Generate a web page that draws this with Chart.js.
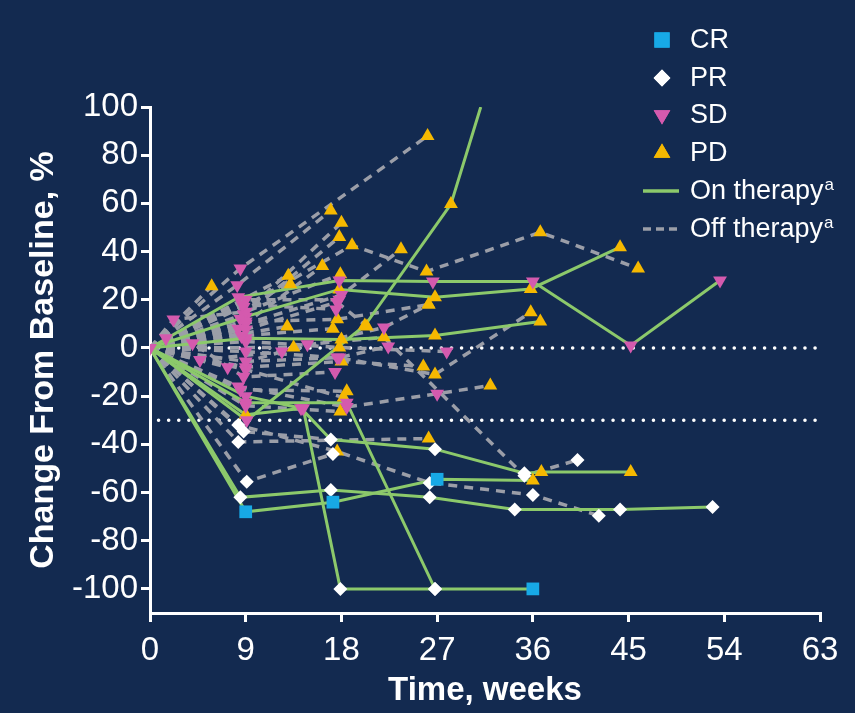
<!DOCTYPE html>
<html>
<head>
<meta charset="utf-8">
<script src="https://cdn.jsdelivr.net/npm/chart.js@4.4.1/dist/chart.umd.min.js"></script>
<style>
  html, body { margin: 0; padding: 0; background: #132a50; }
  canvas { display: block; }
</style>
</head>
<body>
<canvas id="chart" width="855" height="713"></canvas>
<script>
// axis ticks
const weekTicks = [0, 9, 18, 27, 36, 45, 54, 63];
const changeTicks = [-100, -80, -60, -40, -20, 0, 20, 40, 60, 80, 100];
const referenceLevels = [0, -30];

// one trace per patient: [week, % change, response at that visit]
const onTherapy = [
  [[0, 0, ''], [9.1, -30, 'SD'], [20.2, 9.3, 'PD'], [28.3, 59.7, 'PD'], [31.1, 100, '']],
  [[0, 0, 'SD'], [8.3, 21, 'SD'], [17.8, 28, 'SD'], [26.6, 27.6, 'SD'], [36, 27.6, 'SD'], [45.2, 1, 'SD'], [53.6, 28, 'SD']],
  [[0, 0, ''], [9, 13, 'SD'], [17.8, 24.3, 'PD'], [26.8, 21, 'PD'], [35.8, 24.5, 'PD'], [44.2, 41.8, 'PD']],
  [[0, 0, ''], [9, 4, 'SD'], [18, 3.5, 'PD'], [26.8, 5.2, 'PD'], [36.7, 11, 'PD']],
  [[0, 0, ''], [8.5, -62, 'PR'], [17, -59, 'PR'], [26.3, -62, 'PR'], [34.3, -67, 'PR'], [44.2, -67, 'PR'], [52.9, -66, 'PR']],
  [[0, 0, ''], [9, -68, 'CR'], [17.2, -64, 'CR'], [27, -54.5, 'CR'], [36, -55, 'PD']],
  [[0, 0, ''], [9, -20, 'SD'], [14.2, -25, 'SD'], [17, -38, 'PR'], [26.8, -42, 'PR'], [35.2, -52, 'PR'], [36.8, -51.5, 'PD'], [45.2, -51.5, 'PD']],
  [[0, 0, ''], [9, -27.7, 'PD'], [14.4, -25, 'SD'], [17.9, -100, 'PR'], [26.8, -100, 'PR'], [36, -100, 'CR']],
  [[0, 0, ''], [9, -22.7, 'SD'], [18.5, -22.7, 'SD'], [26.8, -100, 'PR']]
];

const offTherapy = [
  [[0, 0, ''], [8.5, 33, 'SD'], [26.1, 88, 'PD']],
  [[0, 0, ''], [8.2, 26, 'SD'], [17, 57, 'PD']],
  [[0, 0, ''], [8.8, 17, 'SD'], [19, 42.6, 'PD'], [26, 31.7, 'PD'], [36.7, 48, 'PD'], [45.9, 33, 'PD']],
  [[0, 0, ''], [9, 10, 'SD'], [18, 22, 'SD'], [23.6, 41, 'PD']],
  [[0, 0, ''], [8.8, 14, 'SD'], [18, 52, 'PD']],
  [[0, 0, ''], [8.5, 12, 'SD'], [17.8, 46, 'PD']],
  [[0, 0, ''], [8.3, 8, 'SD'], [16.2, 34, 'PD']],
  [[0, 0, ''], [13, 30, 'PD']],
  [[0, 0, ''], [13.2, 26.4, 'PD']],
  [[0, 0, ''], [5.8, 25.6, 'PD']],
  [[0, 0, ''], [2.2, 11.8, 'SD'], [9, 15, 'SD'], [17.9, 30.6, 'PD']],
  [[0, 0, ''], [9, 2.7, 'SD'], [17.8, 0.2, 'PD'], [27.9, -1.5, 'SD']],
  [[0, 0, ''], [9, -8, 'SD'], [18, -5.6, 'PD'], [25.7, -7.7, 'PD']],
  [[0, 0, ''], [9, -1.5, 'SD'], [17.6, -4, 'SD'], [26.8, -11, 'PD'], [35.8, 14.8, 'PD']],
  [[0, 0, ''], [8.3, -16, 'SD'], [18.5, -24.5, 'SD'], [27, -19, 'SD'], [32, -15.6, 'PD']],
  [[0, 0, ''], [4.7, -5, 'SD'], [12.4, -1.5, 'SD'], [22, 8.5, 'SD'], [26.2, 18, 'PD']],
  [[0, 0, ''], [7.3, -8, 'SD'], [14.8, 1.5, 'SD'], [22, 4.4, 'PD'], [35.2, -53, 'PR'], [40.2, -46.5, 'PR']],
  [[0, 0, ''], [9, 11, 'SD'], [17.6, 11.9, 'PD'], [26.2, 18, 'PD']],
  [[0, 0, ''], [12.9, 8.9, 'PD']],
  [[0, 0, ''], [13.5, 0.2, 'PD']],
  [[0, 0, ''], [8.5, -17.3, 'SD'], [18.5, -18, 'PD']],
  [[0, 0, ''], [9, -9, 'SD'], [18.2, -20.6, 'PD']],
  [[0, 0, ''], [9, -24, 'SD'], [17.9, -26.4, 'PD']],
  [[0, 0, ''], [8.3, -39, 'PR'], [26.2, -37.6, 'PD']],
  [[0, 0, ''], [8.3, -32, 'PR'], [17.6, -43, 'PD'], [26.3, -56, 'PR'], [36, -61, 'PR'], [42.2, -69.6, 'PR']],
  [[0, 0, ''], [9.1, -55.5, 'PR'], [17.2, -44, 'PR']],
  [[0, 0, ''], [8.8, -34.7, 'PR'], [17, -38, '']],
  [[0, 0, ''], [1.5, 4, 'SD'], [9, 20, 'SD'], [17.8, 20, 'SD']],
  [[0, 0, ''], [9, 7.7, 'SD'], [17.6, 19, 'SD'], [20.4, 8.9, 'PD']],
  [[0, 0, ''], [9, -5.6, 'SD'], [17.8, -4, 'SD'], [22.4, 0.6, 'SD']],
  [[0, 0, ''], [8.7, 18, 'SD'], [17.5, 16, 'SD']],
  [[0, 0, ''], [8.6, 5, 'SD'], [17.2, 8, 'PD']],
  [[0, 0, ''], [4, 2, 'SD'], [8.8, -12, 'SD'], [17.4, -10, 'SD']]
];

const responses = ['CR', 'PR', 'SD', 'PD'];

const GREEN = '#8cc96b';
const GREY = '#9b9ea8';
const FONT = "'Liberation Sans', Arial, sans-serif";

const markerStyle = {
  CR: { pointStyle: 'rect', color: '#17a9e6', radius: 9, rotation: 0 },
  PR: { pointStyle: 'rectRot', color: '#ffffff', radius: 7, rotation: 0 },
  SD: { pointStyle: 'triangle', color: '#d45aae', radius: 8, rotation: 180 },
  PD: { pointStyle: 'triangle', color: '#f5b800', radius: 8, rotation: 0 }
};

const toXY = (trace) => trace.map(p => ({ x: p[0], y: p[1] }));

const markerSets = responses.map(r => ({
  label: r,
  data: onTherapy.concat(offTherapy).flatMap(t => t.filter(p => p[2] === r)).map(p => ({ x: p[0], y: p[1] })),
  showLine: false,
  pointStyle: markerStyle[r].pointStyle,
  pointRotation: markerStyle[r].rotation,
  pointRadius: markerStyle[r].radius,
  pointBackgroundColor: markerStyle[r].color,
  pointBorderColor: markerStyle[r].color,
  pointBorderWidth: 0
}));

const onSets = onTherapy.map(t => ({
  data: toXY(t), borderColor: GREEN, borderWidth: 3, pointRadius: 0, tension: 0
}));
const offSets = offTherapy.map(t => ({
  data: toXY(t), borderColor: GREY, borderWidth: 3.5, borderDash: [9, 7], pointRadius: 0, tension: 0
}));
const refSets = referenceLevels.map(v => ({
  data: [{ x: 0.8, y: v }, { x: 63, y: v }],
  borderColor: '#ffffff', borderWidth: 3.5, borderDash: [0.1, 10], borderCapStyle: 'round', pointRadius: 0
}));

// legend drawn inside the plot, top right
const legendPlugin = {
  id: 'responseLegend',
  afterDraw(chart) {
    const ctx = chart.ctx;
    const h = Chart.helpers;
    const rowY = [40, 78, 115, 153, 191, 229];
    const sx = 662, tx = 690;
    ctx.save();
    ctx.textBaseline = 'middle';
    ctx.textAlign = 'left';
    responses.forEach((r, i) => {
      const s = markerStyle[r];
      ctx.fillStyle = s.color;
      ctx.strokeStyle = s.color;
      h.drawPoint(ctx, { pointStyle: s.pointStyle, rotation: s.rotation, radius: s.radius * 1.2, borderWidth: 0 }, sx, rowY[i]);
      ctx.fill();
      ctx.fillStyle = '#ffffff';
      ctx.font = '27px ' + FONT;
      ctx.fillText(r, tx, rowY[i] + 1);
    });
    const lineItems = [
      { text: 'On therapy', color: GREEN, dash: [], y: rowY[4] },
      { text: 'Off therapy', color: GREY, dash: [8, 5], y: rowY[5] }
    ];
    lineItems.forEach(it => {
      ctx.strokeStyle = it.color;
      ctx.lineWidth = 3.5;
      ctx.setLineDash(it.dash);
      ctx.beginPath();
      ctx.moveTo(643, it.y);
      ctx.lineTo(679, it.y);
      ctx.stroke();
      ctx.setLineDash([]);
      ctx.fillStyle = '#ffffff';
      ctx.font = '27px ' + FONT;
      ctx.fillText(it.text, tx, it.y + 1);
      const w = ctx.measureText(it.text).width;
      ctx.font = '17px ' + FONT;
      ctx.fillText('a', tx + w + 1, it.y - 6);
    });
    ctx.restore();
  }
};

new Chart(document.getElementById('chart'), {
  type: 'line',
  data: { datasets: markerSets.concat(onSets, offSets, refSets) },
  options: {
    responsive: false,
    animation: false,
    events: [],
    layout: { padding: { top: 107, right: 35, left: 0, bottom: 0 } },
    plugins: { legend: { display: false }, tooltip: { enabled: false } },
    scales: {
      x: {
        type: 'linear',
        min: 0, max: 63,
        afterBuildTicks: s => { s.ticks = weekTicks.map(v => ({ value: v })); },
        afterFit: s => { s.height = 100; },
        border: { color: '#ffffff', width: 3 },
        grid: { drawOnChartArea: false, drawTicks: true, tickLength: 9, color: '#ffffff', lineWidth: 3 },
        ticks: { color: '#ffffff', font: { family: FONT, size: 33 }, padding: 9, maxRotation: 0 },
        title: { display: true, text: 'Time, weeks', color: '#ffffff', font: { family: FONT, size: 33, weight: 'bold' }, padding: { top: 0, bottom: 2 } }
      },
      y: {
        type: 'linear',
        min: -110, max: 100,
        afterBuildTicks: s => { s.ticks = changeTicks.map(v => ({ value: v })); },
        afterFit: s => { s.width = 150; },
        border: { color: '#ffffff', width: 3 },
        grid: { drawOnChartArea: false, drawTicks: true, tickLength: 9, color: '#ffffff', lineWidth: 3 },
        ticks: { color: '#ffffff', font: { family: FONT, size: 33 }, padding: 3 },
        title: { display: true, text: 'Change From Baseline, %', color: '#ffffff', font: { family: FONT, size: 34, weight: 'bold' }, padding: { top: 23, bottom: 0 } }
      }
    }
  },
  plugins: [legendPlugin]
});
</script>
</body>
</html>
